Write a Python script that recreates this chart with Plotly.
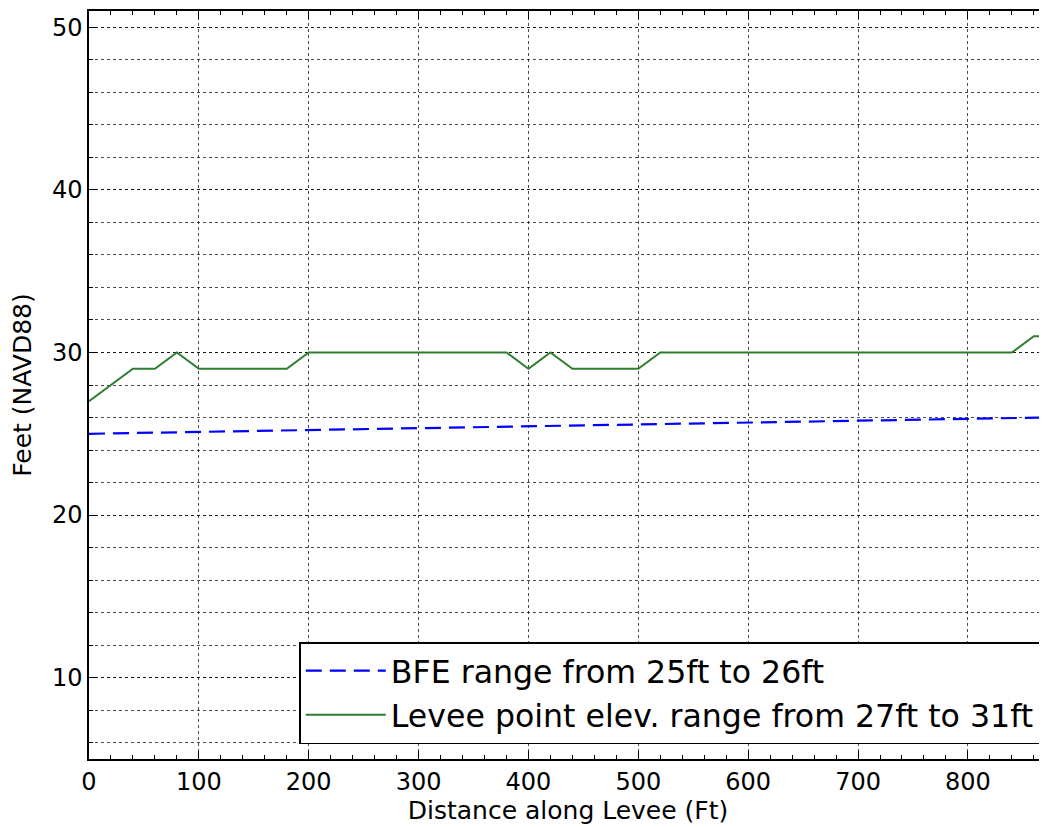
import plotly.graph_objects as go

# Levee elevation profile
levee_x = [0, 40, 60, 80, 100, 180, 200, 380, 400, 420, 440, 500, 520, 840, 860, 880]
levee_y = [27, 29, 29, 30, 29, 29, 30, 30, 29, 30, 29, 29, 30, 30, 31, 31]

# Base flood elevation
bfe_x = [0, 870]
bfe_y = [25, 26]

x_ticks = [0, 100, 200, 300, 400, 500, 600, 700, 800]
y_ticks = [10, 20, 30, 40, 50]

FONT = "DejaVu Sans"

fig = go.Figure()
fig.add_trace(go.Scatter(
    x=bfe_x, y=bfe_y, mode="lines",
    name="BFE range from 25ft to 26ft",
    line=dict(color="#0000ff", width=2.2, dash="16px,8px"),
))
fig.add_trace(go.Scatter(
    x=levee_x, y=levee_y, mode="lines",
    name="Levee point elev. range from 27ft to 31ft",
    line=dict(color="#2f7d2f", width=2),
))

grid_col = "rgba(0,0,0,0.7)"
fig.update_layout(
    width=1039, height=819,
    margin=dict(l=81, r=0, t=3, b=68),
    paper_bgcolor="white", plot_bgcolor="white",
    font=dict(family=FONT, color="black", size=24),
    showlegend=True,
    legend=dict(
        x=0.993, y=0.02, xanchor="right", yanchor="bottom",
        bordercolor="black", borderwidth=1.5, bgcolor="white",
        font=dict(size=31.6, family=FONT),
        itemwidth=80,
        tracegroupgap=4,
    ),
    xaxis=dict(
        range=[0, 872], tickvals=x_ticks, ticktext=[str(v) for v in x_ticks],
        showline=True, linecolor="black", linewidth=1.5, mirror="allticks",
        ticks="inside", ticklen=8, tickcolor="black",
        showgrid=True, gridcolor=grid_col, griddash="dot", gridwidth=1,
        zeroline=False,
        tickfont=dict(size=24),
        title=dict(text="Distance along Levee (Ft)", font=dict(size=25), standoff=4),
        minor=dict(dtick=20, tick0=0, ticks="inside", ticklen=4, tickcolor="black", showgrid=False),
    ),
    yaxis=dict(
        range=[5, 51], tickvals=y_ticks, ticktext=[str(v) for v in y_ticks],
        showline=True, linecolor="black", linewidth=1.5, mirror=False,
        ticks="inside", ticklen=8, tickcolor="black",
        showgrid=True, gridcolor=grid_col, griddash="dot", gridwidth=1,
        zeroline=False,
        tickfont=dict(size=24),
        title=dict(text="Feet (NAVD88)", font=dict(size=25), standoff=14),
        minor=dict(dtick=2, tick0=0, ticks="inside", ticklen=4, tickcolor="black",
                   showgrid=True, gridcolor=grid_col, griddash="dot", gridwidth=1),
    ),
)

fig.write_html("out.html")
